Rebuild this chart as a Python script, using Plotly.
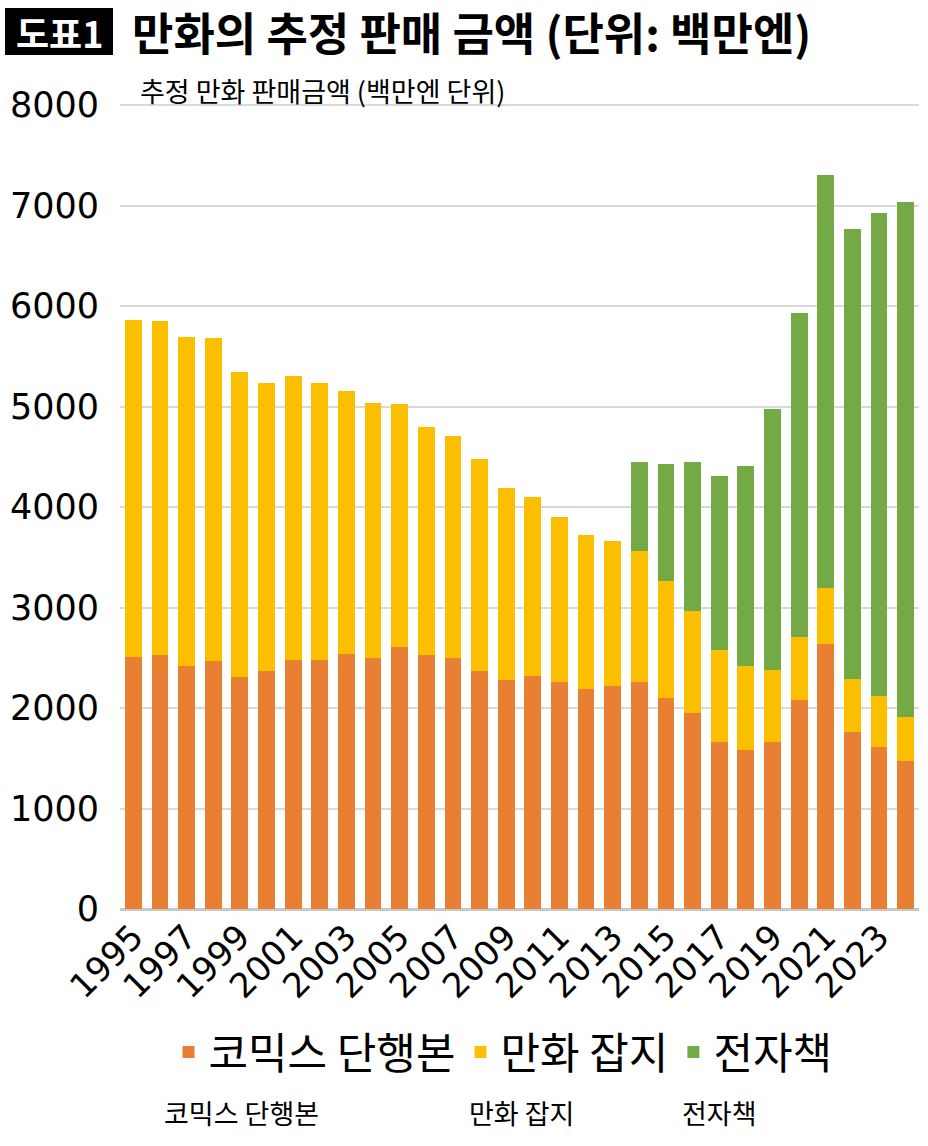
import plotly.graph_objects as go

years = list(range(1995, 2025))
comics = [2507, 2524, 2418, 2464, 2305, 2368, 2478, 2478, 2540, 2497,
          2603, 2527, 2497, 2371, 2275, 2318, 2259, 2192, 2219, 2259,
          2100, 1947, 1664, 1582, 1664, 2079, 2640, 1758, 1615, 1473]
magazines = [3355, 3322, 3276, 3214, 3041, 2865, 2828, 2752, 2611, 2541,
             2422, 2272, 2209, 2107, 1914, 1778, 1641, 1529, 1443, 1306,
             1159, 1015, 913, 832, 717, 627, 554, 534, 501, 437]
ebooks = [0] * 19 + [879, 1169, 1486, 1736, 1994, 2594, 3224, 4109, 4474, 4809, 5125]

names = ["코믹스 단행본", "만화 잡지", "전자책"]
colors = ["#E97F32", "#FCBF00", "#74AA46"]

KR = "Noto Sans CJK KR"
NUM = "DejaVu Sans"

fig = go.Figure()
for name, vals, col in zip(names, [comics, magazines, ebooks], colors):
    fig.add_trace(go.Bar(x=years, y=vals, name=name, marker=dict(color=col, line=dict(width=0))))

# plot area in pixels: x 120..919, y 103..909 (8000 at y=105)
L, R, T, B = 120, 919, 103, 909
YMAX = 8020
W, H = R - L, B - T
def px(x):
    return (x - L) / W
def py(y):
    return (B - y) / H

fig.update_layout(
    width=928, height=1146,
    margin=dict(l=L, r=928 - R, t=T, b=1146 - B),
    barmode="stack", bargap=0.37,
    plot_bgcolor="white", paper_bgcolor="white",
    showlegend=True,
    legend=dict(orientation="h", x=px(503), xanchor="center", y=py(1052), yanchor="middle",
                font=dict(family=KR, size=43, color="black"), itemwidth=30,
                traceorder="normal"),
    xaxis=dict(range=[1994.5, 2024.5], tickmode="linear", tick0=1995, dtick=2,
               tickangle=-45, tickfont=dict(family=NUM, size=34, color="black"),
               showgrid=False, zeroline=False, showline=False, ticks=""),
    yaxis=dict(range=[0, YMAX], tickmode="linear", tick0=0, dtick=1000,
               tickfont=dict(family=NUM, size=35, color="black"),
               showgrid=True, gridcolor="#d9d9d9", gridwidth=2,
               zeroline=True, zerolinecolor="#c8c8c8", zerolinewidth=3,
               ticks="", ticklabelstandoff=20),
)

fig.add_shape(type="rect", xref="paper", yref="paper",
              x0=px(5), x1=px(113), y0=py(55), y1=py(8),
              fillcolor="black", line=dict(width=0))
fig.add_annotation(xref="paper", yref="paper", x=px(59), y=py(32), text="<b>도표1</b>",
                   showarrow=False, xanchor="center", yanchor="middle",
                   font=dict(family=KR, size=36, color="white"))
fig.add_annotation(xref="paper", yref="paper", x=px(130), y=py(32),
                   text="<b>만화의 추정 판매 금액 (단위: 백만엔)</b>",
                   showarrow=False, xanchor="left", yanchor="middle",
                   font=dict(family=KR, size=45, color="black"))
fig.add_annotation(xref="paper", yref="paper", x=px(138), y=py(90),
                   text="추정 만화 판매금액 (백만엔 단위)",
                   showarrow=False, xanchor="left", yanchor="middle",
                   font=dict(family=KR, size=27, color="black"))

for name, cx in zip(names, [241, 521, 719]):
    fig.add_annotation(xref="paper", yref="paper", x=px(cx), y=py(1112), text=name,
                       showarrow=False, xanchor="center", yanchor="middle",
                       font=dict(family=KR, size=27, color="black"))

fig.write_html("out.html")
